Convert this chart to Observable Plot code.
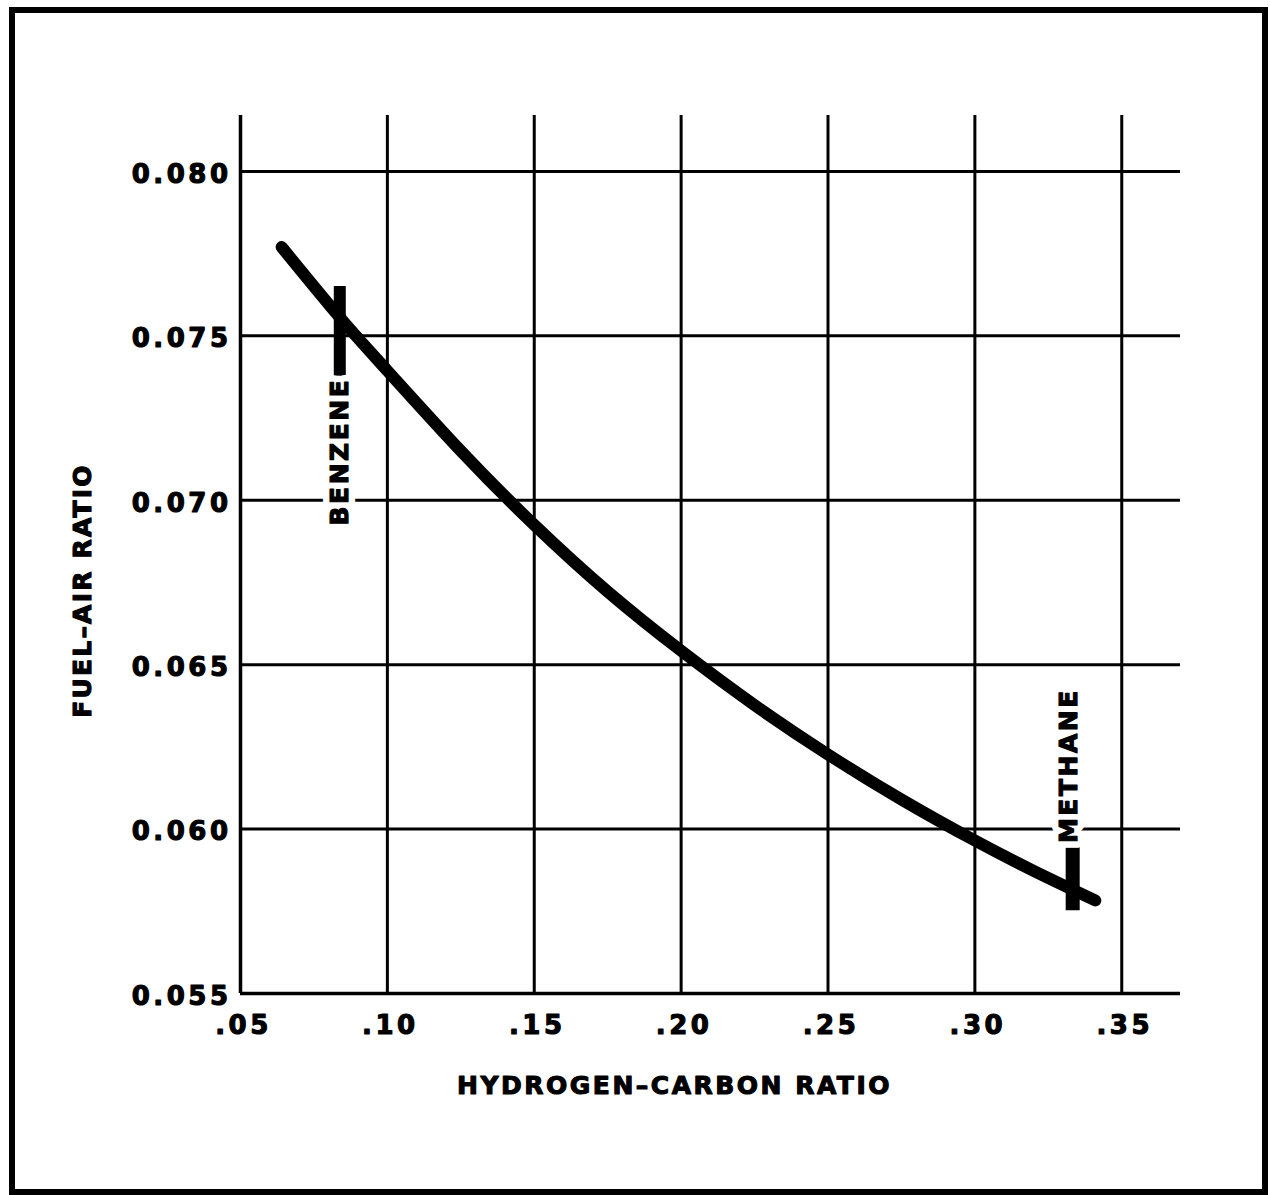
<!DOCTYPE html>
<html>
<head>
<meta charset="utf-8">
<script src="https://cdn.jsdelivr.net/npm/d3@7"></script>
<script src="https://cdn.jsdelivr.net/npm/@observablehq/plot@0.6"></script>
<style>
  html, body { margin: 0; padding: 0; background: #fff; }
  #wrap { position: relative; width: 1270px; height: 1195px; overflow: hidden; }
  #border { position: absolute; left: 9px; top: 7px; width: 1247px; height: 1176px; border: 6px solid #000; pointer-events: none; }
  svg { display: block; }
</style>
</head>
<body>
<div id="wrap"><div id="border"></div></div>
<script>
// ---- data ----
const xTicks = [0.05, 0.10, 0.15, 0.20, 0.25, 0.30, 0.35];
const xTickLabels = [".05", ".10", ".15", ".20", ".25", ".30", ".35"];
const yTicks = [0.055, 0.060, 0.065, 0.070, 0.075, 0.080];
const yTickLabels = ["0.055", "0.060", "0.065", "0.070", "0.075", "0.080"];
const hcRatio = [0.064, 0.0838, 0.100, 0.125, 0.150, 0.175, 0.200, 0.225, 0.250, 0.275, 0.300, 0.320, 0.341];
const fuelAir = [0.0777, 0.07556, 0.07394, 0.0715, 0.06925, 0.06722, 0.06542, 0.06377, 0.06227, 0.0609, 0.05965, 0.05873, 0.05783];
const fuelNames = ["BENZENE", "METHANE"];
const fuelHC = [0.0838, 0.3333];
const markerTop = [0.0765, 0.05944];
const markerBottom = [0.0737, 0.05752];
const labelX = [0.0838, 0.3320];
const labelY = [0.07148, 0.06193];
const xTitle = "HYDROGEN\u2013CARBON RATIO";
const yTitle = "FUEL\u2013AIR RATIO";

const xDomain = [0.05, 0.37];
const yDomain = [0.055, 0.0817];

const curve = hcRatio.map((x, i) => ({x, y: fuelAir[i]}));
const markers = fuelNames.map((name, i) => ({name, x: fuelHC[i], y1: markerTop[i], y2: markerBottom[i], lx: labelX[i], ly: labelY[i], w: i === 0 ? 12 : 14}));
const xt = xTicks.map((v, i) => ({v, label: xTickLabels[i]}));
const yt = yTicks.map((v, i) => ({v, label: yTickLabels[i]}));

const font = "'DejaVu Sans', sans-serif";
const ink = {fill: "black", stroke: "black", strokeWidth: 1.1, fontWeight: "bold"};

const chart = Plot.plot({
  width: 1270,
  height: 1195,
  marginLeft: 240,
  marginRight: 90,
  marginTop: 115,
  marginBottom: 202,
  x: {domain: xDomain, axis: null},
  y: {domain: yDomain, axis: null},
  style: {fontFamily: font, background: "white", color: "black", overflow: "visible"},
  marks: [
    // vertical grid lines
    Plot.ruleX(xTicks, {x: d => d, y1: yDomain[0], y2: yDomain[1], stroke: "black", strokeWidth: d => d === 0.05 ? 3.5 : 3}),
    // horizontal grid lines
    Plot.ruleY(yTicks, {y: d => d, x1: xDomain[0], x2: xDomain[1], stroke: "black", strokeWidth: d => d === 0.055 ? 3.5 : 3}),
    // the curve
    Plot.line(curve, {x: "x", y: "y", curve: "natural", stroke: "black", strokeWidth: 12, strokeLinecap: "round"}),
    // fuel markers
    Plot.ruleX(markers, {x: "x", y1: "y1", y2: "y2", stroke: "black", strokeWidth: "w", strokeLinecap: "butt"}),
    // white halo behind fuel labels
    Plot.text(markers, {x: "lx", y: "ly", text: "name", rotate: -90, textAnchor: "middle", lineAnchor: "middle",
      fontSize: 25, fontWeight: "bold", fill: "white", stroke: "white", strokeWidth: 14}),
    // fuel labels
    Plot.text(markers, {x: "lx", y: "ly", text: "name", rotate: -90, textAnchor: "middle", lineAnchor: "middle",
      fontSize: 25, ...ink}),
    // y tick labels
    Plot.text(yt, {x: xDomain[0], y: "v", text: "label", textAnchor: "end", lineAnchor: "middle", dx: -9, dy: 3,
      fontSize: 26, ...ink}),
    // x tick labels
    Plot.text(xt, {x: "v", y: yDomain[0], text: "label", textAnchor: "middle", lineAnchor: "middle", dy: 32, dx: 3,
      fontSize: 26, ...ink}),
    // axis titles
    Plot.text([xTitle], {frameAnchor: "bottom", text: d => d, dx: -36, dy: 92, lineAnchor: "middle",
      fontSize: 25, ...ink}),
    Plot.text([yTitle], {frameAnchor: "left", text: d => d, dx: -158, dy: 36, rotate: -90, textAnchor: "middle", lineAnchor: "middle",
      fontSize: 25, ...ink})
  ]
});
const spacing = ["2.5px", "2.5px", "3.5px", "3.5px", "2.5px", "2.2px"];
chart.querySelectorAll('g[aria-label="text"]').forEach((g, i) => { g.style.letterSpacing = spacing[i] || "2px"; });
document.getElementById("wrap").prepend(chart);
</script>
</body>
</html>
